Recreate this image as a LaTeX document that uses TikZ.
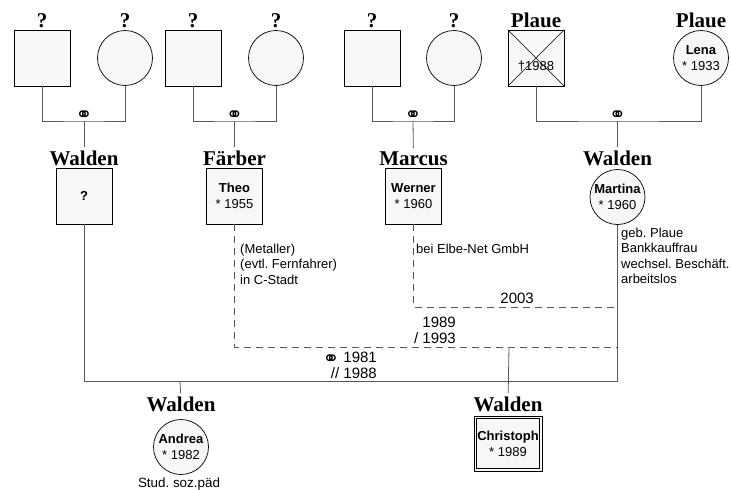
\documentclass[tikz,border=0pt]{standalone}
\usepackage{fontspec}
\setmainfont{Liberation Sans}
\newfontfamily\gSerif{Liberation Serif}
\newfontfamily\gSym{DejaVu Sans}
\newcommand{\gMarr}{\smash{\raisebox{-3pt}{\gSym\fontsize{20}{20}\selectfont ⚭}}}
\newcommand{\gPerson}[2]{\textbf{#1}\\#2}
\frenchspacing

\tikzset{
  male/.style={draw, fill=black!3, line width=0.7pt, minimum size=56pt, inner sep=1pt, align=center, font=\fontsize{13}{16}\selectfont},
  female/.style={male, circle, minimum size=55pt, inner sep=0pt},
  fam/.style={anchor=base, inner sep=3pt, font=\gSerif\bfseries\fontsize{21}{23}\selectfont},
  marr/.style={anchor=base, inner sep=0pt},
  rel/.style={draw=black!65, line width=0.8pt},
  sep/.style={rel, dash pattern=on 7pt off 5pt},
  note/.style={anchor=north west, inner sep=0pt, align=left, font=\fontsize{13}{15.2}\selectfont},
  year/.style={anchor=base east, inner sep=0pt, align=right, font=\fontsize{15}{15.5}\selectfont}
}

\begin{document}
\begin{tikzpicture}[x=1pt,y=-1pt]
\useasboundingbox (0,0) rectangle (731,490);

% grandparents
\node[male] (gfWalden) at (42,58) {};
\node[female] (gmWalden) at (125,58) {};
\node[male] (gfFaerber) at (193,58) {};
\node[female] (gmFaerber) at (276,58) {};
\node[male] (gfMarcus) at (372,58) {};
\node[female] (gmMarcus) at (454,58) {};
\node[male] (gfPlaue) at (536,58) {};
\node[female] (gmPlaue) at (701,58) {\gPerson{Lena}{* 1933}};
\draw[line width=0.6pt] (gfPlaue.north west) -- (gfPlaue.south east) (gfPlaue.north east) -- (gfPlaue.south west);
\node[anchor=base, inner sep=0pt, font=\fontsize{13}{16}\selectfont] (dPlaue) at (536,70) {†1988};

\node[fam] (labGfWalden) at (42,27) {?};
\node[fam] (labGmWalden) at (125,27) {?};
\node[fam] (labGfFaerber) at (193,27) {?};
\node[fam] (labGmFaerber) at (276,27) {?};
\node[fam] (labGfMarcus) at (372,27) {?};
\node[fam] (labGmMarcus) at (454,27) {?};
\node[fam] (labGfPlaue) at (536,27) {Plaue};
\node[fam] (labGmPlaue) at (701,27) {Plaue};

% marriages of the grandparents
\coordinate (mWalden) at (84,121);
\coordinate (mFaerber) at (234.5,121);
\coordinate (mMarcus) at (413,121);
\coordinate (mPlaue) at (617.5,121);
\draw[rel] (gfWalden.south) |- (mWalden) -| (gmWalden.south);
\draw[rel] (gfFaerber.south) |- (mFaerber) -| (gmFaerber.south);
\draw[rel] (gfMarcus.south) |- (mMarcus) -| (gmMarcus.south);
\draw[rel] (gfPlaue.south) |- (mPlaue) -| (gmPlaue.south);
\node[marr] (rWalden) at (84,118) {\gMarr};
\node[marr] (rFaerber) at (234.5,118) {\gMarr};
\node[marr] (rMarcus) at (413,118) {\gMarr};
\node[marr] (rPlaue) at (617.5,118) {\gMarr};

% parents
\node[fam] (labWalden) at (84,165) {Walden};
\node[fam] (labTheo) at (234.5,165) {Färber};
\node[fam] (labWerner) at (413.5,165) {Marcus};
\node[fam] (labMartina) at (617.5,165) {Walden};
\node[male] (fWalden) at (84,196) {\textbf{?}};
\node[male] (theo) at (234.5,196) {\gPerson{Theo}{* 1955}};
\node[male] (werner) at (413.5,196) {\gPerson{Werner}{* 1960}};
\node[female] (martina) at (617.5,197) {\gPerson{Martina}{* 1960}};
\draw[rel] (mWalden) -- (labWalden);
\draw[rel] (mFaerber) -- (labTheo);
\draw[rel] (mMarcus) -- (labWerner);
\draw[rel] (mPlaue) -- (labMartina);

\node[note] (nTheo) at (240,244) {(Metaller)\\(evtl. Fernfahrer)\\in C-Stadt};
\node[note] (nWerner) at (416,244) {bei Elbe-Net GmbH};
\node[note] (nMartina) at (621,228) {geb. Plaue\\Bankkauffrau\\wechsel. Beschäft.\\arbeitslos};

% partnerships
\coordinate (mFam) at (617.5,381);
\coordinate (sWerner) at (617.5,307);
\coordinate (sTheo) at (617.5,347);
\draw[rel] (fWalden.south) |- (mFam) -- (martina.south);
\draw[sep] (werner.south) |- (sWerner);
\draw[sep] (theo.south) |- (sTheo);
\node[year] (yWerner) at (534,303) {2003};
\node[year] (yTheo) at (456,343) {1989\\/ 1993};
\node[year] (yFam) at (377,378) {\gMarr\ 1981\\// 1988};

% children
\coordinate (cAndrea) at (180,381);
\coordinate (cChristoph) at (509,347);
\node[fam] (labAndrea) at (181,411) {Walden};
\node[fam] (labChristoph) at (508,411) {Walden};
\node[female] (andrea) at (181,447) {\gPerson{Andrea}{* 1982}};
\node[male, minimum width=68pt, minimum height=55pt] (christoph) at (508,443.5) {\gPerson{Christoph}{* 1989}};
\draw[line width=0.7pt] ([shift={(2.7,2.7)}]christoph.north west) rectangle ([shift={(-2.7,-2.7)}]christoph.south east);
\draw[rel] (cAndrea) -- (labAndrea);
\draw[rel] (cChristoph) -- (labChristoph);
\node[anchor=base, inner sep=0pt, font=\fontsize{13.4}{15}\selectfont] (nAndrea) at (179,487) {Stud. soz.päd};
\end{tikzpicture}
\end{document}
